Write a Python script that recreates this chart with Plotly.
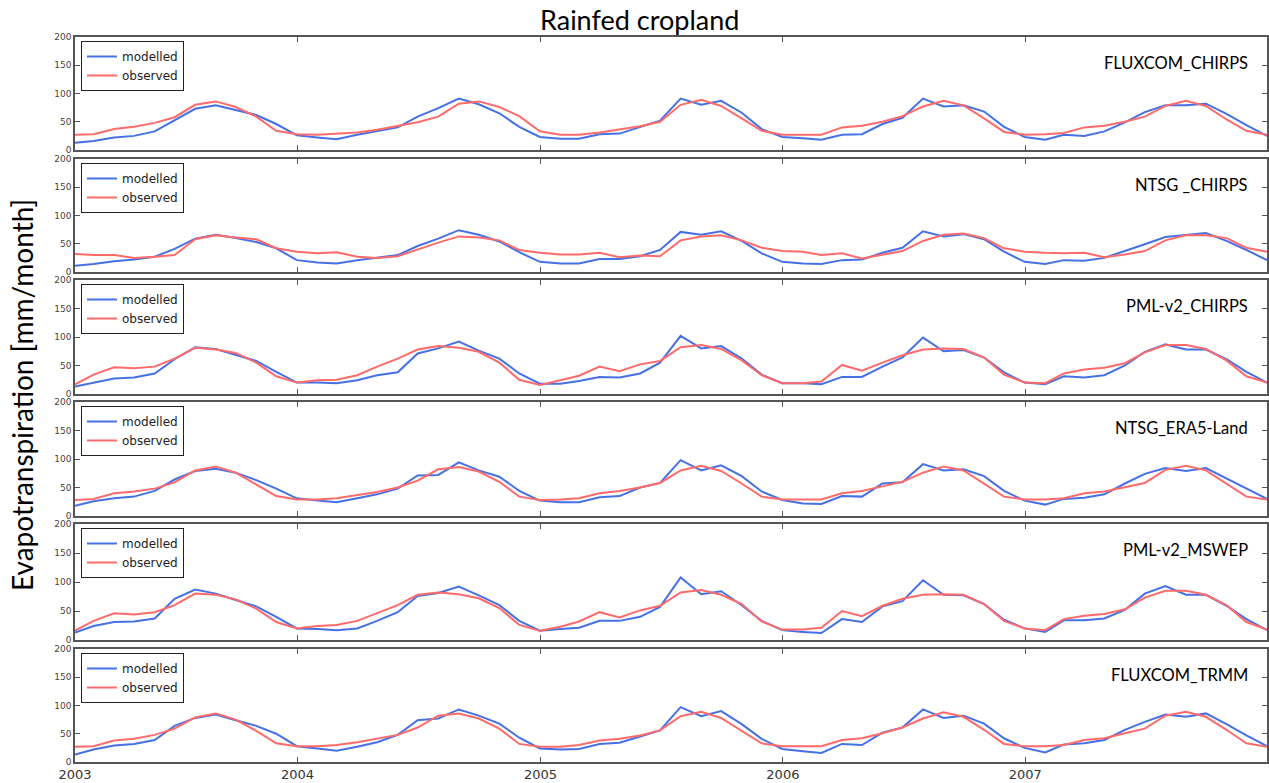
import calendar
import plotly.graph_objects as go

# ---------------- data ----------------
months = [f"{y}-{m:02d}-{calendar.monthrange(y, m)[1]:02d}" for y in range(2003, 2008) for m in range(1, 13)]

panel_names = ["FLUXCOM_CHIRPS", "NTSG _CHIRPS", "PML-v2_CHIRPS", "NTSG_ERA5-Land", "PML-v2_MSWEP", "FLUXCOM_TRMM"]

fluxcom_chirps_mod = [13,16,22,25,33,52,73,79,71,62,46,26,22,19,27,34,40,59,74,91,81,65,41,23,20,20,28,29,40,
                      52,91,80,87,66,37,23,21,18,27,28,46,57,91,77,79,68,41,23,18,27,25,33,49,67,79,79,82,64,44,25]
fluxcom_chirps_obs = [27,28,37,41,48,58,80,86,76,59,34,28,27,29,31,36,43,49,59,82,86,76,60,33,27,27,31,37,42,
                      50,80,89,78,56,34,27,27,27,40,43,50,60,77,87,79,56,32,27,28,30,40,43,50,59,78,87,78,54,34,27]

ntsg_chirps_mod = [11,14,19,22,27,41,59,66,60,53,42,21,17,15,21,25,30,46,59,74,66,54,35,18,15,15,23,23,28,
                   39,71,66,72,55,33,18,15,14,21,22,34,43,72,63,67,58,36,18,14,21,20,25,37,49,62,65,69,55,39,21]
ntsg_chirps_obs = [32,30,30,25,27,30,58,65,61,58,42,36,33,35,27,25,28,40,52,63,61,56,39,34,31,31,34,26,29,
                   28,56,63,65,56,43,37,36,30,33,24,31,37,55,66,68,60,42,36,34,33,34,26,31,37,56,65,65,60,43,36]

pml_chirps_mod = [13,20,27,29,36,61,82,79,69,58,39,20,20,19,24,33,38,71,80,92,76,62,36,18,18,23,30,29,36,
                  55,102,80,84,62,34,19,19,17,30,30,48,64,99,75,77,64,38,20,17,31,29,33,50,74,87,78,78,61,39,20]
pml_chirps_obs = [17,34,47,45,48,62,81,78,72,55,31,20,24,25,33,48,62,78,84,81,74,55,25,16,24,32,48,40,52,
                  58,82,86,79,59,33,19,19,22,51,41,55,68,78,80,79,64,34,20,19,36,43,46,54,73,86,86,79,59,31,20]

ntsg_era5_mod = [18,26,31,34,44,64,79,83,76,63,48,31,27,24,31,38,48,71,72,94,80,69,44,27,24,24,33,35,50,
                 58,98,80,89,70,43,28,22,21,35,34,57,59,91,80,82,70,44,27,20,30,32,38,57,74,84,79,84,66,48,30]
ntsg_era5_obs = [28,30,40,43,48,59,80,87,76,55,35,29,29,31,37,42,50,62,82,86,78,60,34,28,29,31,40,44,50,
                 58,80,88,79,57,34,29,29,29,40,44,52,60,76,87,80,56,34,29,29,31,40,43,50,58,81,88,80,57,34,29]

pml_mswep_mod = [13,24,31,32,37,71,87,80,69,58,40,20,19,17,20,33,48,76,81,92,77,60,33,16,19,21,33,33,40,
                 57,108,79,84,60,33,17,14,12,36,31,58,67,103,78,77,62,35,20,14,34,34,37,52,80,93,78,78,59,36,17]
pml_mswep_obs = [16,33,46,44,48,60,80,78,70,54,31,20,24,26,33,46,60,78,82,79,72,55,26,16,23,32,48,39,51,
                 59,82,86,78,62,32,18,18,21,50,41,59,71,78,79,78,62,33,20,17,36,42,45,53,73,85,85,78,60,31,18]

fluxcom_trmm_mod = [13,22,29,32,39,64,78,84,74,64,50,28,24,20,27,35,48,74,77,93,82,68,43,24,22,23,32,34,45,
                    56,97,81,90,67,41,23,19,16,32,30,52,61,93,78,82,68,42,25,17,31,33,39,57,71,84,80,86,67,47,28]
fluxcom_trmm_obs = [27,28,38,41,48,59,79,86,75,55,33,28,28,30,35,41,48,61,82,86,77,59,32,27,27,30,38,41,47,
                    56,81,89,78,55,33,28,28,28,39,42,51,61,77,88,80,57,32,28,28,30,39,42,51,59,82,89,80,57,33,27]

modelled = [fluxcom_chirps_mod, ntsg_chirps_mod, pml_chirps_mod, ntsg_era5_mod, pml_mswep_mod, fluxcom_trmm_mod]
observed = [fluxcom_chirps_obs, ntsg_chirps_obs, pml_chirps_obs, ntsg_era5_obs, pml_mswep_obs, fluxcom_trmm_obs]

year_ticks = ["2004-01-01", "2005-01-01", "2006-01-01", "2007-01-01"]
year_labels = ["2004", "2005", "2006", "2007"]
y_ticks = [0, 50, 100, 150, 200]

# ---------------- layout ----------------
W, H = 1269, 783
spans = [(37, 150), (159, 272), (280, 394), (402, 516), (524, 640), (649, 762)]
x0, x1 = 75, 1267
BLUE = "rgb(70,112,230)"
RED = "rgb(255,106,106)"
AX = "#555555"

fig = go.Figure()
layout = dict(width=W, height=H, margin=dict(l=0, r=0, t=0, b=0, pad=0), autosize=False,
              plot_bgcolor="white", paper_bgcolor="white", showlegend=True,
              annotations=[])

for k in range(6):
    n = "" if k == 0 else str(k + 1)
    top, bot = spans[k]
    lg = "legend" + n
    fig.add_trace(go.Scatter(x=months, y=modelled[k], mode="lines", name="modelled",
                             line=dict(color=BLUE, width=2), xaxis="x" + n, yaxis="y" + n, legend=lg))
    fig.add_trace(go.Scatter(x=months, y=observed[k], mode="lines", name="observed",
                             line=dict(color=RED, width=2), xaxis="x" + n, yaxis="y" + n, legend=lg))
    last = (k == 5)
    tv = ([months[0]] + year_ticks) if last else year_ticks
    tt = (["2003"] + year_labels) if last else year_labels
    layout["xaxis" + n] = dict(domain=[x0 / W, x1 / W], anchor="y" + n, type="date",
                               range=[months[0], months[-1]], tickvals=tv, ticktext=tt,
                               showticklabels=last, ticks="inside", ticklen=5, tickcolor=AX,
                               mirror="allticks", showline=True, linecolor=AX, linewidth=1.5,
                               showgrid=False, zeroline=False, automargin=False,
                               tickfont=dict(family="DejaVu Sans", size=13, color="#333333"))
    layout["yaxis" + n] = dict(domain=[1 - bot / H, 1 - top / H], anchor="x" + n, range=[0, 200],
                               tickvals=y_ticks, ticks="inside", ticklen=5, tickcolor=AX,
                               mirror="allticks", showline=True, linecolor=AX, linewidth=1.5,
                               showgrid=False, zeroline=False, automargin=False,
                               tickfont=dict(family="DejaVu Sans", size=9, color="#444444"))
    layout[lg] = dict(x=81 / W, y=1 - (top + 4) / H, xanchor="left", yanchor="top",
                      bordercolor="#222222", borderwidth=1, bgcolor="white",
                      font=dict(family="DejaVu Sans", size=12, color="#222222"),
                      tracegroupgap=0, itemwidth=30)
    layout["annotations"].append(dict(text=panel_names[k], x=1250 / W, y=1 - (top + 26) / H,
                                      xref="paper", yref="paper", xanchor="right", yanchor="middle",
                                      showarrow=False, font=dict(family="Lato", size=16.5, color="black")))

layout["annotations"].append(dict(text="Rainfed cropland", x=640 / W, y=1 - 19 / H, xref="paper", yref="paper",
                                  xanchor="center", yanchor="middle", showarrow=False,
                                  font=dict(family="Lato", size=27, color="black")))
layout["annotations"].append(dict(text="Evapotranspiration [mm/month]", x=22 / W, y=1 - 395 / H,
                                  xref="paper", yref="paper", xanchor="center", yanchor="middle",
                                  textangle=-90, showarrow=False,
                                  font=dict(family="Lato", size=28, color="black")))

fig.update_layout(**layout)
fig.write_html("out.html", config={"displayModeBar": False},
               post_script="document.body.style.margin='0';document.body.style.overflow='hidden';")
